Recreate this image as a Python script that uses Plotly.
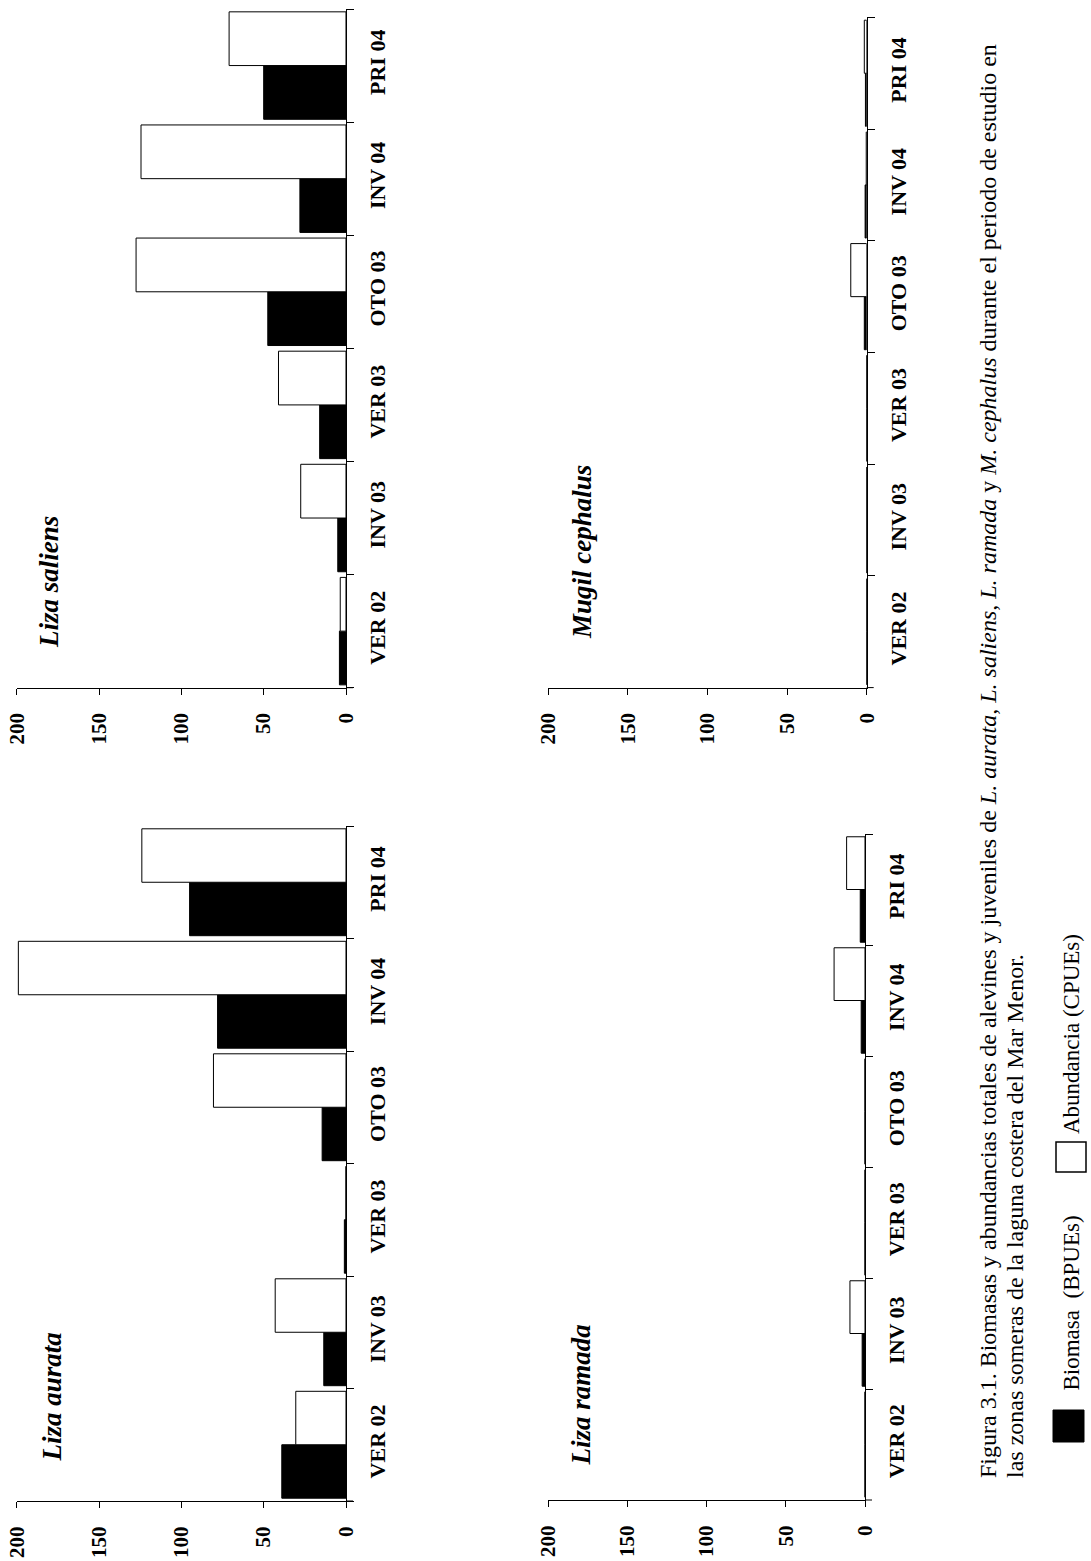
import plotly.graph_objects as go

W, H = 1091, 1561

categories = ["VER 02", "INV 03", "VER 03", "OTO 03", "INV 04", "PRI 04"]
value_ticks = [0, 50, 100, 150, 200]

species = ["Liza saliens", "Liza aurata", "Mugil cephalus", "Liza ramada"]

saliens_biomasa = [4, 5, 16, 47.5, 28, 50]
saliens_abundancia = [3.5, 27.5, 41, 127.5, 124.5, 71]
aurata_biomasa = [39, 13.5, 1, 14.5, 78, 95]
aurata_abundancia = [30.5, 43, 0, 80.5, 199, 124]
mugil_biomasa = [0, 0, 0, 1.5, 1, 0.8]
mugil_abundancia = [0, 0, 0, 10, 0.3, 1.5]
ramada_biomasa = [0, 1.8, 0, 0, 2.4, 3.0]
ramada_abundancia = [0, 9.5, 0, 0, 19.5, 11.6]

biomasa = [saliens_biomasa, aurata_biomasa, mugil_biomasa, ramada_biomasa]
abundancia = [saliens_abundancia, aurata_abundancia, mugil_abundancia, ramada_abundancia]

FONT = "Liberation Serif"

# horizontal calibration of the captured page (empirical)
X_OFF, X_SPAN = 12.0, 1067.0


def px_x(x):
    return (x - X_OFF) / X_SPAN


def px_y(y):
    return 1 - y / H


# panel plot areas in pixels: (x_left(200), x_right(0), y_top, y_bottom)
panels = [
    (16.7, 346.0, 9.0, 687.7),
    (16.7, 346.0, 826.0, 1501.0),
    (548.3, 866.7, 17.4, 687.6),
    (548.0, 865.0, 834.0, 1500.0),
]
# species label: center x, bottom y
label_pos = [(49, 650), (51, 1464), (582, 641), (580, 1468)]

fig = go.Figure()
layout = {}
shapes = []
annotations = []

for i in range(4):
    sfx = "" if i == 0 else str(i + 1)
    xa, ya = "x" + sfx, "y" + sfx
    fig.add_trace(go.Bar(
        y=categories, x=biomasa[i], orientation="h", name="Biomasa (BPUEs)",
        marker=dict(color="black", line=dict(color="black", width=1)),
        xaxis=xa, yaxis=ya, showlegend=False))
    fig.add_trace(go.Bar(
        y=categories, x=abundancia[i], orientation="h", name="Abundancia (CPUEs)",
        marker=dict(color="white", line=dict(color="black", width=1)),
        xaxis=xa, yaxis=ya, showlegend=False))
    xl, xr, yt, yb = panels[i]
    layout["xaxis" + sfx] = dict(
        domain=[px_x(xl), px_x(xr)], anchor=ya, range=[200, 0],
        tickvals=value_ticks, ticktext=[str(v) for v in value_ticks],
        ticks="outside", ticklen=6, tickwidth=1, tickcolor="black",
        showline=True, linecolor="black", linewidth=1,
        showgrid=False, zeroline=False, tickangle=-90,
        ticklabelstandoff=10,
        tickfont=dict(family=FONT, size=21, color="black", weight="bold"),
    )
    layout["yaxis" + sfx] = dict(
        domain=[px_y(yb), px_y(yt)], anchor=xa, side="right",
        type="category", categoryorder="array", categoryarray=categories,
        tickson="boundaries", ticks="outside", ticklen=7, tickwidth=1, tickcolor="black",
        showline=True, linecolor="black", linewidth=1,
        showgrid=False, zeroline=False, tickangle=-90,
        ticklabelstandoff=12,
        tickfont=dict(family=FONT, size=22, color="black", weight="bold"),
    )
    # extension of the value axis line under the category ticks
    shapes.append(dict(type="line", xref=xa + " domain", yref=ya + " domain",
                       x0=1, x1=1 + 7 / (xr - xl), y0=0, y1=0,
                       line=dict(color="black", width=1)))
    lx, ly = label_pos[i]
    annotations.append(dict(
        text=species[i], x=px_x(lx), y=px_y(ly), xref="paper", yref="paper",
        xanchor="center", yanchor="bottom", textangle=-90, showarrow=False,
        font=dict(family=FONT, size=27, color="black", weight="bold", style="italic")))

caption1 = ("Figura 3.1. Biomasas y abundancias totales de alevines y juveniles de "
            "<i>L. aurata</i>, <i>L. saliens</i>, <i>L. ramada</i> y <i>M. cephalus</i> "
            "durante el periodo de estudio en")
caption2 = "las zonas someras de la laguna costera del Mar Menor."
for txt, cx in [(caption1, 988), (caption2, 1015)]:
    annotations.append(dict(
        text=txt, x=px_x(cx), y=px_y(1480), xref="paper", yref="paper",
        xanchor="center", yanchor="bottom", textangle=-90, showarrow=False,
        font=dict(family=FONT, size=24, color="black")))

# legend
shapes.append(dict(type="rect", xref="paper", yref="paper",
                   x0=px_x(1053), x1=px_x(1084), y0=px_y(1442), y1=px_y(1410),
                   fillcolor="black", line=dict(color="black", width=1)))
shapes.append(dict(type="rect", xref="paper", yref="paper",
                   x0=px_x(1056), x1=px_x(1086), y0=px_y(1172), y1=px_y(1142),
                   fillcolor="white", line=dict(color="black", width=1.5)))
for txt, by in [("Biomasa&nbsp; (BPUEs)", 1393), ("Abundancia (CPUEs)", 1136)]:
    annotations.append(dict(
        text=txt, x=px_x(1071), y=px_y(by), xref="paper", yref="paper",
        xanchor="center", yanchor="bottom", textangle=-90, showarrow=False,
        font=dict(family=FONT, size=23, color="black")))

fig.update_layout(
    width=W, height=H, autosize=False, margin=dict(l=0, r=0, t=0, b=0),
    paper_bgcolor="white", plot_bgcolor="white",
    barmode="group", bargap=0.05, bargroupgap=0,
    shapes=shapes, annotations=annotations, showlegend=False,
    **layout,
)

fig.write_html(
    "out.html",
    config={"displayModeBar": False, "responsive": False},
    post_script="document.body.style.margin='0px';document.body.style.overflow='hidden';",
)
